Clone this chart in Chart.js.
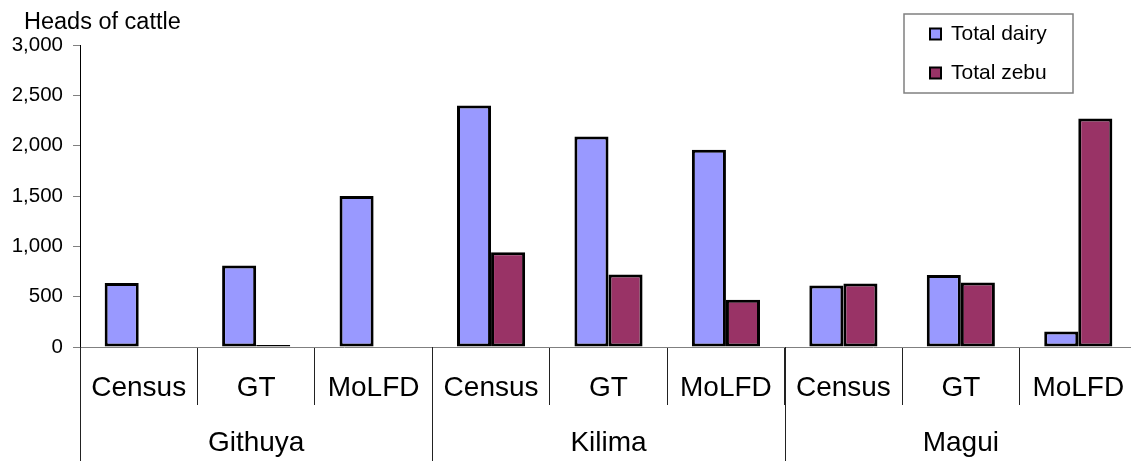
<!DOCTYPE html>
<html>
<head>
<meta charset="utf-8">
<script src="https://cdn.jsdelivr.net/npm/chart.js@4.4.1/dist/chart.umd.min.js"></script>
<style>
  html, body { margin: 0; padding: 0; background: #fff; overflow: hidden; }
  #wrap { width: 1140px; height: 461px; }
</style>
</head>
<body>
<div id="wrap"><canvas id="cattleChart" width="1140" height="461"></canvas></div>
<script>
// ── Data ──────────────────────────────────────────────────────
const sources  = ['Census', 'GT', 'MoLFD', 'Census', 'GT', 'MoLFD', 'Census', 'GT', 'MoLFD'];
const villages = ['Githuya', 'Kilima', 'Magui'];
const dairy    = [635, 810, 1500, 2400, 2090, 1960, 610, 715, 155];
const zebu     = [null, 20, null, 940, 720, 470, 630, 640, 2270];
const yMin = 0, yMax = 3000, yStep = 500;
const yTitle = 'Heads of cattle';

const FONT = 'Arial, "Liberation Sans", sans-serif';

// ── Extra drawing: title, group axis, legend box ──────────────
const decorations = {
  id: 'decorations',
  afterDraw(chart) {
    const ctx = chart.ctx;
    const x = chart.scales.x;
    const per = sources.length / villages.length;
    const half = (x.getPixelForValue(1) - x.getPixelForValue(0)) / 2;

    ctx.save();
    // axis title
    ctx.fillStyle = '#000';
    ctx.font = '23.5px ' + FONT;
    ctx.textAlign = 'left';
    ctx.textBaseline = 'alphabetic';
    ctx.fillText(yTitle, 24, 29);

    // village separators + labels
    ctx.strokeStyle = '#222';
    ctx.lineWidth = 1;
    for (let g = 0; g <= villages.length; g++) {
      const px = Math.round(x.getPixelForValue(g * per) - half) + 0.5;
      ctx.beginPath();
      ctx.moveTo(px, x.top);
      ctx.lineTo(px, chart.height);
      ctx.stroke();
    }
    ctx.font = '28px ' + FONT;
    ctx.textAlign = 'center';
    ctx.textBaseline = 'middle';
    villages.forEach((v, g) => {
      const cx = (x.getPixelForValue(g * per) + x.getPixelForValue(g * per + per - 1)) / 2;
      ctx.fillText(v, cx, 443);
    });

    // legend
    const box = { l: 904, t: 14, w: 169, h: 79 };
    ctx.fillStyle = '#fff';
    ctx.fillRect(box.l, box.t, box.w, box.h);
    ctx.strokeStyle = '#808080';
    ctx.lineWidth = 1.5;
    ctx.strokeRect(box.l, box.t, box.w, box.h);
    ctx.font = '21px ' + FONT;
    ctx.textAlign = 'left';
    chart.data.datasets.forEach((ds, i) => {
      const cy = 34 + i * 39;
      ctx.fillStyle = ds.backgroundColor;
      ctx.fillRect(930, cy - 5.5, 11, 11);
      ctx.strokeStyle = '#000';
      ctx.lineWidth = 2;
      ctx.strokeRect(930, cy - 5.5, 11, 11);
      ctx.fillStyle = '#000';
      ctx.fillText(ds.label, 951, cy);
    });
    ctx.restore();
  }
};

// ── Chart ─────────────────────────────────────────────────────
function renderCattleChart() {
  const canvas = document.getElementById('cattleChart');
  if (!canvas || typeof Chart === 'undefined') return;

  new Chart(canvas, {
    type: 'bar',
    data: {
      labels: sources,
      datasets: [
        { label: 'Total dairy', data: dairy, backgroundColor: '#9999FF' },
        { label: 'Total zebu',  data: zebu,  backgroundColor: '#993366' }
      ]
    },
    options: {
      responsive: false,
      animation: false,
      layout: { padding: { top: 45, left: 0, right: 3, bottom: 0 } },
      datasets: {
        bar: { categoryPercentage: 0.58, barPercentage: 1, borderColor: '#000', borderWidth: 3, borderSkipped: false }
      },
      plugins: { legend: { display: false }, tooltip: { enabled: false } },
      scales: {
        x: {
          afterFit: s => { s.height = 114; },
          border: { color: '#808080', width: 1 },
          grid: { drawOnChartArea: false, tickLength: 58, color: '#222', offset: true },
          ticks: { color: '#000', font: { family: FONT, size: 28 }, padding: -34, autoSkip: false, maxRotation: 0 }
        },
        y: {
          min: yMin, max: yMax,
          afterFit: s => { s.width = 80; },
          border: { color: '#000', width: 1 },
          grid: { drawOnChartArea: false, tickLength: 7, color: '#808080' },
          ticks: { stepSize: yStep, color: '#000', padding: 10, font: { family: FONT, size: 20.5 } }
        }
      }
    },
    plugins: [decorations]
  });
}

document.addEventListener('DOMContentLoaded', renderCattleChart);
</script>
</body>
</html>
